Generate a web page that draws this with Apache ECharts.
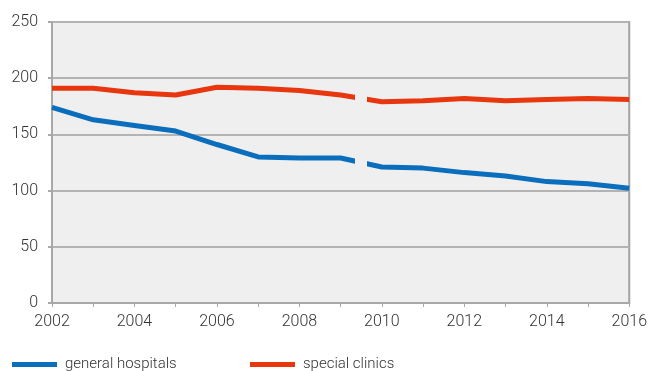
<!DOCTYPE html>
<html><head><meta charset="utf-8">
<script src="https://cdn.jsdelivr.net/npm/echarts@6/dist/echarts.min.js"></script>
<style>html,body{margin:0;padding:0;background:#fff}#c{width:650px;height:371px}</style>
</head><body><div id="c"></div>
<script>
var years = [2002,2003,2004,2005,2006,2007,2008,2009,2010,2011,2012,2013,2014,2015,2016];
var generalHospitals = [174,163,158,153,141,130,129,129,121,120,116,113,108,106,102];
var specialClinics = [191,191,187,185,192,191,189,185,179,180,182,180,181,182,181];
var seriesNames = ['general hospitals','special clinics'];
var colors = ['#0a6ebd','#e8360e'];
var gapStart = 2009.34, gapEnd = 2009.63;

function pairs(v){ return years.map(function(y,i){ return [y, v[i]]; }); }
function gapMap(idx){
  return {show:false, type:'piecewise', dimension:0, seriesIndex:idx,
    pieces:[{lte:gapStart, color:colors[idx]},{gt:gapStart, lt:gapEnd, color:'rgba(0,0,0,0)'},{gte:gapEnd, color:colors[idx]}]};
}
var chart = echarts.init(document.getElementById('c'));
var font = 'Roboto';
function legendAt(idx, left){
  return {left:left,top:352,itemWidth:45,itemHeight:5,icon:'rect',
    textStyle:{fontFamily:font,fontSize:15,fontWeight:300,color:'#333',padding:[0,0,0,3]},
    data:[{name:seriesNames[idx],itemStyle:{color:colors[idx]}}]};
}
chart.setOption({
  animation:false,
  grid:{left:52,right:20,top:22,bottom:68,show:true,backgroundColor:'#efefef',borderColor:'#a3a3a3',borderWidth:2},
  xAxis:{type:'value',min:2002,max:2016,interval:1,
    axisLine:{lineStyle:{color:'#a8a8a8',width:2}},
    axisTick:{show:true,length:4,lineStyle:{color:'#a8a8a8',width:1}},
    splitLine:{show:false},
    axisLabel:{fontFamily:font,fontSize:16,fontWeight:300,color:'#333',margin:11,
      formatter:function(v){return v%2===0?String(v):'';}}},
  yAxis:{type:'value',min:0,max:250,interval:50,
    axisLine:{show:true,lineStyle:{color:'#a8a8a8',width:2}},
    axisTick:{show:true,length:4,lineStyle:{color:'#a8a8a8',width:2}},
    splitLine:{lineStyle:{color:'#b3b3b3',width:2}},
    axisLabel:{fontFamily:font,fontSize:16,fontWeight:300,color:'#333',margin:14}},
  visualMap:[gapMap(0),gapMap(1)],
  legend:[legendAt(0,7),legendAt(1,245)],
  series:[
    {name:seriesNames[0],type:'line',data:pairs(generalHospitals),showSymbol:false,symbol:'none',
      lineStyle:{width:5}},
    {name:seriesNames[1],type:'line',data:pairs(specialClinics),showSymbol:false,symbol:'none',
      lineStyle:{width:5}}
  ]
});
</script></body></html>
